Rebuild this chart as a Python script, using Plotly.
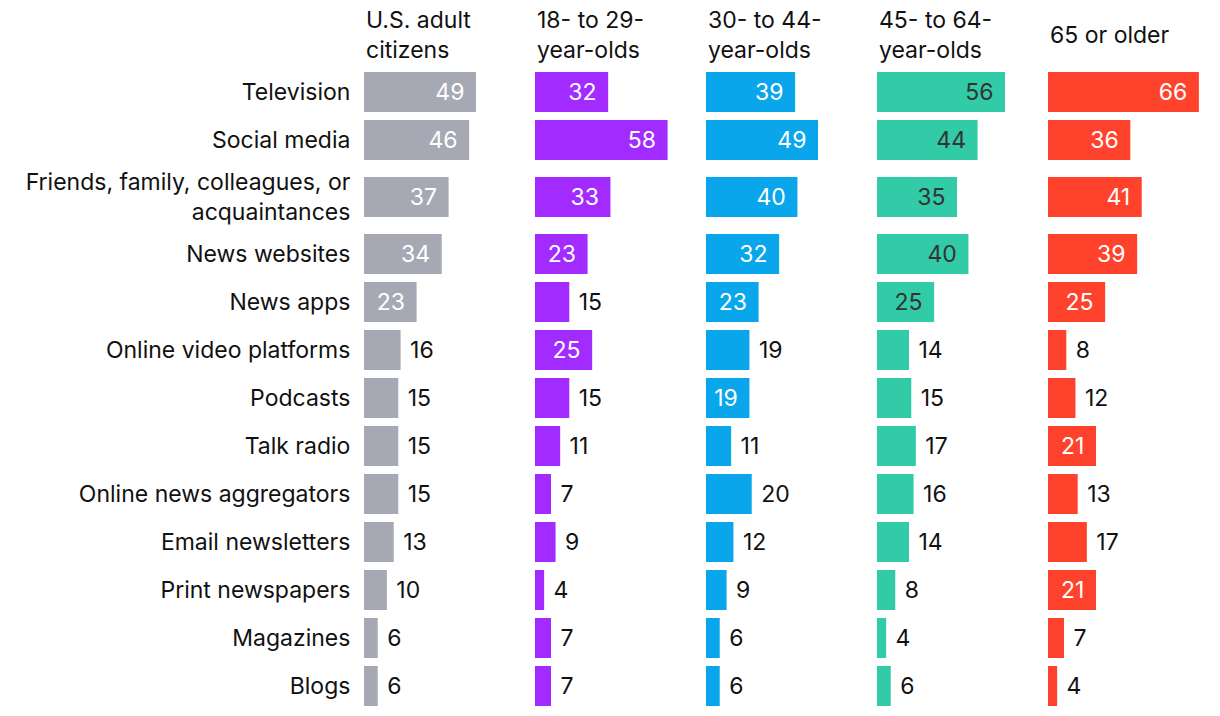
import plotly.graph_objects as go

categories = ["Television", "Social media", "Friends, family, colleagues, or<br>acquaintances",
              "News websites", "News apps", "Online video platforms", "Podcasts", "Talk radio",
              "Online news aggregators", "Email newsletters", "Print newspapers", "Magazines", "Blogs"]

panel_titles = ["U.S. adult<br>citizens", "18- to 29-<br>year-olds", "30- to 44-<br>year-olds",
                "45- to 64-<br>year-olds", "65 or older"]

us_adults = [49, 46, 37, 34, 23, 16, 15, 15, 15, 13, 10, 6, 6]
age_18_29 = [32, 58, 33, 23, 15, 25, 15, 11, 7, 9, 4, 7, 7]
age_30_44 = [39, 49, 40, 32, 23, 19, 19, 11, 20, 12, 9, 6, 6]
age_45_64 = [56, 44, 35, 40, 25, 14, 15, 17, 16, 14, 8, 4, 6]
age_65_up = [66, 36, 41, 39, 25, 8, 12, 21, 13, 17, 21, 7, 4]

series = [us_adults, age_18_29, age_30_44, age_45_64, age_65_up]
colors = ["#a6a9b4", "#a22cff", "#09a6ec", "#32cba8", "#ff422c"]
inside_font_colors = ["#ffffff", "#ffffff", "#ffffff", "#333333", "#ffffff"]
# labels drawn inside the bar (per panel, by row index) beyond the size threshold
inside_extra = {2: {6}}
inside_threshold = 21

FONT = "Inter"
FS = 23
W, H = 1220, 716
ML, MT, MB = 364, 68, 6

# row heights: two-line labels get extra room
row_h = [66 if "<br>" in c else 48 for c in categories]
centers = []
acc = 0
for h in row_h:
    centers.append(acc + h / 2)
    acc += h
total = acc

ph = H - MT - MB
pw = W - ML
panel_px = 171
step_px = 171
fig = go.Figure()
for i, (vals, col) in enumerate(zip(series, colors)):
    texts, pos = [], []
    for j, v in enumerate(vals):
        inside = v >= inside_threshold or j in inside_extra.get(i, set())
        if inside:
            texts.append(f"{v}\u00a0\u200a")
            pos.append("inside")
        else:
            texts.append(f"\u00a0{v}")
            pos.append("outside")
    xa = "x" if i == 0 else f"x{i+1}"
    fig.add_trace(go.Bar(
        x=vals, y=centers, orientation="h", width=40,
        marker=dict(color=col, line=dict(width=0)),
        text=texts, textposition=pos, insidetextanchor="end",
        insidetextfont=dict(color=inside_font_colors[i], size=FS, family=FONT),
        outsidetextfont=dict(color="#111111", size=FS, family=FONT),
        cliponaxis=False, xaxis=xa, yaxis="y", hoverinfo="skip", showlegend=False,
    ))
    d0 = (i * step_px) / pw
    d1 = min(1.0, (i * step_px + panel_px) / pw)
    axname = "xaxis" if i == 0 else f"xaxis{i+1}"
    fig.layout[axname] = dict(domain=[d0, d1], range=[0, panel_px / 2.286], visible=False,
                              fixedrange=True, anchor="y")
    fig.add_annotation(text=panel_titles[i], xref="paper", yref="paper",
                       x=d0, y=1 + (MT - 35) / ph, xanchor="left", yanchor="middle",
                       align="left", showarrow=False,
                       font=dict(family=FONT, size=FS, color="#111111"))

fig.update_layout(
    width=W, height=H, margin=dict(l=ML, r=0, t=MT, b=MB),
    paper_bgcolor="white", plot_bgcolor="white",
    barmode="overlay",
    uniformtext=dict(minsize=FS, mode="show"),
    yaxis=dict(range=[total, 0], tickvals=centers, ticktext=categories,
               showgrid=False, zeroline=False, showline=False,
               ticks="outside", ticklen=8, tickcolor="rgba(0,0,0,0)",
               tickfont=dict(family=FONT, size=FS, color="#111111"), fixedrange=True),
    font=dict(family=FONT, size=FS, color="#111111"),
)

fig.write_html("out.html")
